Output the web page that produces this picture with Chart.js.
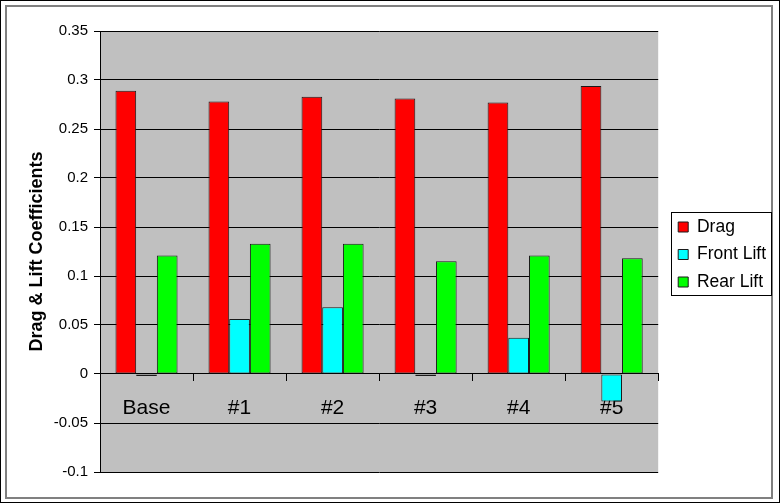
<!DOCTYPE html>
<html>
<head>
<meta charset="utf-8">
<script src="https://cdn.jsdelivr.net/npm/chart.js@4/dist/chart.umd.min.js"></script>
<style>
  html, body { margin: 0; padding: 0; background: #fff; }
  #wrap { width: 782px; height: 504px; position: relative; }
</style>
</head>
<body>
<div id="wrap"><canvas id="chart"></canvas></div>
<script>
// data
const categories = ['Base', '#1', '#2', '#3', '#4', '#5'];
const drag = [0.289, 0.278, 0.283, 0.281, 0.277, 0.294];
const frontLift = [-0.002, 0.056, 0.068, -0.002, 0.037, -0.028];
const rearLift = [0.121, 0.133, 0.133, 0.115, 0.121, 0.118];
const yTicks = [-0.1, -0.05, 0, 0.05, 0.1, 0.15, 0.2, 0.25, 0.3, 0.35];

const FONT = "'Liberation Sans', Arial, sans-serif";
const LEGEND_FONT = 17.5, LEGEND_BOX = 10, LEGEND_PAD = 10;
const LEGEND_DX = 10, LEGEND_DY = 3;

// grey plot area + white page
const plotBg = {
  id: 'plotBg',
  beforeDraw(chart) {
    const { ctx, chartArea: a } = chart;
    ctx.save();
    ctx.fillStyle = '#fff';
    ctx.fillRect(0, 0, chart.width, chart.height);
    ctx.fillStyle = '#c0c0c0';
    ctx.fillRect(a.left, a.top, a.right - a.left, a.bottom - a.top);
    ctx.restore();
  }
};

// outer frame of the picture
const frame = {
  id: 'frame',
  afterDraw(chart) {
    const { ctx } = chart;
    ctx.save();
    ctx.strokeStyle = '#000';
    ctx.lineWidth = 1;
    ctx.strokeRect(0.5, 0.5, 779, 502);
    ctx.strokeStyle = '#808080';
    ctx.lineWidth = 2;
    ctx.strokeRect(6, 6, 766, 492);
    ctx.restore();
  }
};

// push the legend a bit away from the plot and box it in
const legendBox = {
  id: 'legendBox',
  afterLayout(chart) {
    const lg = chart.legend;
    lg.left += LEGEND_DX; lg.right += LEGEND_DX;
    lg.top += LEGEND_DY; lg.bottom += LEGEND_DY;
  },
  afterDraw(chart) {
    const lg = chart.legend;
    const items = lg.legendItems || [];
    if (!items.length) return;
    const { ctx } = chart;
    ctx.save();
    ctx.font = `${LEGEND_FONT}px ${FONT}`;
    const textW = Math.max(...items.map(it => ctx.measureText(it.text).width));
    const rowH = LEGEND_FONT + LEGEND_PAD;
    const colH = items.length * rowH;
    const x0 = lg.left + LEGEND_PAD;
    const y0 = lg.top + LEGEND_PAD + (lg.height - LEGEND_PAD - colH) / 2;
    const left = x0 - 7;
    const right = x0 + LEGEND_BOX + LEGEND_FONT / 2 + textW + 5;
    const top = y0 - 6;
    const bottom = y0 + colH - LEGEND_PAD + 4;
    ctx.strokeStyle = '#000';
    ctx.lineWidth = 1;
    ctx.strokeRect(Math.round(left) + 0.5, Math.round(top) + 0.5, Math.round(right - left), Math.round(bottom - top));
    ctx.restore();
  }
};

const bar = (label, data, color) => ({
  label, data,
  backgroundColor: color,
  borderColor: '#1a1a1a',
  borderWidth: 1,
  borderSkipped: false
});

new Chart(document.getElementById('chart'), {
  type: 'bar',
  data: {
    labels: categories,
    datasets: [
      bar('Drag', drag, '#ff0000'),
      bar('Front Lift', frontLift, '#00ffff'),
      bar('Rear Lift', rearLift, '#00ff00')
    ]
  },
  options: {
    responsive: true,
    maintainAspectRatio: false,
    devicePixelRatio: 1,
    animation: false,
    categoryPercentage: 0.667,
    barPercentage: 1,
    layout: { padding: { top: 31, bottom: 32, left: 0, right: 16 } },
    plugins: {
      tooltip: { enabled: false },
      legend: {
        position: 'right',
        labels: {
          font: { family: FONT, size: LEGEND_FONT },
          color: '#000',
          boxWidth: LEGEND_BOX,
          boxHeight: LEGEND_BOX,
          padding: LEGEND_PAD
        }
      }
    },
    scales: {
      x: {
        position: { y: 0 },
        grid: { offset: true, drawOnChartArea: false, drawTicks: true, tickLength: 7, color: '#000' },
        border: { color: '#000', width: 1 },
        ticks: { font: { family: FONT, size: 21 }, color: '#000', padding: 15, maxRotation: 0 }
      },
      y: {
        min: -0.1,
        max: 0.35,
        afterBuildTicks: s => { s.ticks = yTicks.map(v => ({ value: v })); },
        afterFit: s => { s.width = 100; },
        grid: { color: '#000', tickLength: 6 },
        border: { color: '#000', width: 1 },
        ticks: {
          font: { family: FONT, size: 15 },
          color: '#000',
          padding: 6,
          callback: v => String(+v.toFixed(2))
        },
        title: {
          display: true,
          text: 'Drag & Lift Coefficients',
          font: { family: FONT, size: 18, weight: 'bold' },
          color: '#000',
          padding: { top: 26, bottom: 0 }
        }
      }
    }
  },
  plugins: [plotBg, frame, legendBox]
});
</script>
</body>
</html>
